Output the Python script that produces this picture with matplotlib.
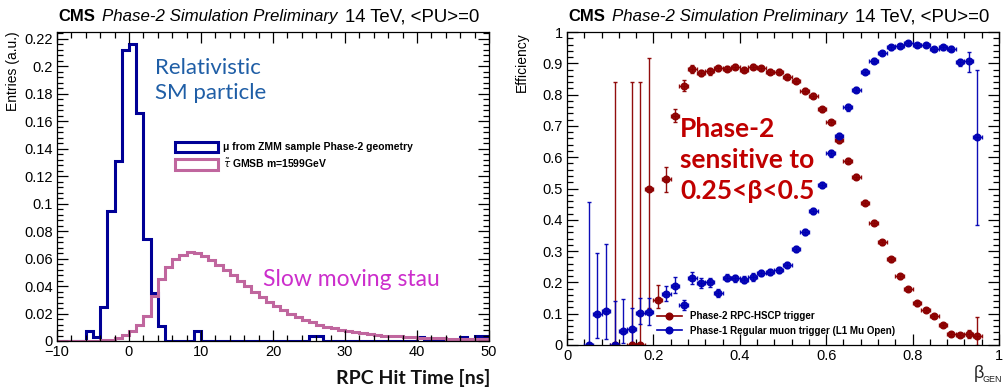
import matplotlib
matplotlib.use("Agg")
import matplotlib.pyplot as plt
import numpy as np
from matplotlib.patches import Rectangle
from matplotlib.lines import Line2D

plt.rcParams['font.family'] = ['Liberation Sans', 'DejaVu Sans']

# ---- left panel: RPC hit time histograms, 1 ns bins from -10 to 50
time_edges = list(range(-10, 51))
muon_entries = [0, 0, 0, 0, 0.007, 0.003, 0.025, 0.095, 0.131, 0.212,
                0.216, 0.166, 0.074, 0.035, 0.011, 0, 0, 0, 0, 0.007,
                0, 0, 0, 0, 0, 0, 0, 0, 0, 0,
                0, 0, 0, 0, 0, 0.004, 0.004, 0, 0, 0,
                0, 0, 0, 0, 0, 0, 0, 0, 0, 0,
                0.003, 0, 0, 0, 0, 0, 0.003, 0, 0.004, 0.004]
stau_entries = [0, 0, 0, 0, 0, 0, 0.0005, 0.001, 0.002, 0.0044,
                0.007, 0.012, 0.018, 0.033, 0.045, 0.054, 0.0595, 0.063, 0.0645, 0.064,
                0.062, 0.059, 0.0555, 0.052, 0.048, 0.044, 0.040, 0.036, 0.032, 0.0285,
                0.0255, 0.0225, 0.020, 0.0175, 0.0155, 0.0135, 0.012, 0.0105, 0.0092, 0.008,
                0.007, 0.0062, 0.0055, 0.0049, 0.0044, 0.004, 0.0036, 0.0033, 0.003, 0.0027,
                0.0025, 0.0023, 0.0021, 0.0019, 0.0017, 0.0016, 0.0015, 0.0014, 0.0013, 0.0012]

# ---- right panel: trigger efficiency vs beta
p2_beta = [0.11, 0.15, 0.17, 0.19, 0.21, 0.23, 0.25, 0.27, 0.29, 0.31,
           0.33, 0.35, 0.37, 0.39, 0.41, 0.43, 0.45, 0.47, 0.49, 0.51,
           0.53, 0.55, 0.57, 0.59, 0.61, 0.63, 0.65, 0.67, 0.69, 0.71,
           0.73, 0.75, 0.77, 0.79, 0.81, 0.83, 0.85, 0.87, 0.89, 0.91,
           0.93, 0.95]
p2_eff = [0, 0, 0, 0.50, 0.143, 0.53, 0.733, 0.828, 0.882, 0.868,
          0.874, 0.884, 0.882, 0.889, 0.879, 0.889, 0.884, 0.873, 0.873, 0.857,
          0.844, 0.812, 0.796, 0.753, 0.712, 0.654, 0.588, 0.537, 0.455, 0.391,
          0.328, 0.274, 0.219, 0.178, 0.133, 0.112, 0.093, 0.064, 0.035, 0.031,
          0.034, 0.029]
p2_err_lo = [0, 0, 0, 0.383, 0.025, 0.04, 0.02, 0.018, 0.012, 0.01,
             0.01, 0.008, 0.008, 0.008, 0.008, 0.008, 0.008, 0.008, 0.008, 0.008,
             0.008, 0.008, 0.008, 0.008, 0.008, 0.008, 0.008, 0.008, 0.008, 0.008,
             0.008, 0.008, 0.008, 0.007, 0.007, 0.007, 0.006, 0.006, 0.006, 0.006,
             0.012, 0.029]
p2_err_hi = [0.84, 0.84, 0.84, 0.416, 0.049, 0.04, 0.02, 0.018, 0.012, 0.01,
             0.01, 0.008, 0.008, 0.008, 0.008, 0.008, 0.008, 0.008, 0.008, 0.008,
             0.008, 0.008, 0.008, 0.008, 0.008, 0.008, 0.008, 0.008, 0.008, 0.008,
             0.008, 0.008, 0.008, 0.007, 0.007, 0.007, 0.006, 0.006, 0.006, 0.006,
             0.015, 0.061]

p1_beta = [0.05, 0.07, 0.09, 0.11, 0.13, 0.15, 0.17, 0.19, 0.23, 0.25,
           0.27, 0.29, 0.31, 0.33, 0.35, 0.37, 0.39, 0.41, 0.43, 0.45,
           0.47, 0.49, 0.51, 0.53, 0.55, 0.57, 0.59, 0.61, 0.63, 0.65,
           0.67, 0.69, 0.71, 0.73, 0.75, 0.77, 0.79, 0.81, 0.83, 0.85,
           0.87, 0.89, 0.91, 0.93, 0.95]
p1_eff = [0, 0.099, 0.109, 0, 0.046, 0.051, 0.103, 0.105, 0.162, 0.19,
          0.128, 0.213, 0.197, 0.200, 0.165, 0.215, 0.213, 0.209, 0.218, 0.230,
          0.234, 0.239, 0.256, 0.306, 0.362, 0.427, 0.511, 0.612, 0.668, 0.759,
          0.815, 0.873, 0.908, 0.932, 0.951, 0.955, 0.964, 0.959, 0.959, 0.946,
          0.951, 0.946, 0.903, 0.908, 0.666]
p1_err_lo = [0, 0.077, 0.089, 0, 0.04, 0.04, 0.035, 0.04, 0.022, 0.025,
             0.015, 0.018, 0.016, 0.015, 0.013, 0.012, 0.012, 0.012, 0.012, 0.01,
             0.01, 0.01, 0.01, 0.01, 0.01, 0.01, 0.01, 0.01, 0.01, 0.01,
             0.008, 0.008, 0.008, 0.007, 0.007, 0.007, 0.006, 0.006, 0.006, 0.007,
             0.007, 0.008, 0.012, 0.035, 0.283]
p1_err_hi = [0.458, 0.196, 0.213, 0.14, 0.10, 0.067, 0.047, 0.044, 0.028, 0.028,
             0.017, 0.02, 0.018, 0.015, 0.013, 0.012, 0.012, 0.012, 0.012, 0.01,
             0.01, 0.01, 0.01, 0.01, 0.01, 0.01, 0.01, 0.01, 0.01, 0.01,
             0.008, 0.008, 0.008, 0.007, 0.007, 0.007, 0.006, 0.006, 0.006, 0.007,
             0.007, 0.008, 0.012, 0.027, 0.213]

navy = '#000096'
mauve = '#c0669e'
red = '#8c0000'
blue = '#0000b4'

fig = plt.figure(figsize=(10.04, 3.9), dpi=100)
W, H = 1004.0, 390.0
ax1 = fig.add_axes([57 / W, 1 - 341 / H, 432 / W, (341 - 31.7) / H])
ax2 = fig.add_axes([567 / W, 1 - 345 / H, 432 / W, (345 - 32) / H])


def root_style(ax):
    ax.tick_params(which='both', direction='in', top=True, right=True,
                   labelsize=10.5, pad=3)
    ax.tick_params(which='major', length=8, width=0.9)
    ax.tick_params(which='minor', length=4, width=0.9)
    for s in ax.spines.values():
        s.set_linewidth(0.9)


def cms_title(x0):
    # pieces placed at their pixel positions in the reference
    y = 1 - 21 / H
    fig.text((x0 + 1) / W, y, 'CMS', fontsize=12, fontweight='bold',
             ha='left', va='baseline')
    fig.text((x0 + 45) / W, y, 'Phase-2 Simulation Preliminary', fontsize=12.2,
             style='italic', ha='left', va='baseline')
    fig.text((x0 + 288) / W, y, '14 TeV, <PU>=0', fontsize=13.4,
             ha='left', va='baseline')


# left panel
ax1.stairs(muon_entries, time_edges, color=navy, lw=2.2)
ax1.stairs(stau_entries, time_edges, color=mauve, lw=2.2)
ax1.set_xlim(-10, 50)
ax1.set_ylim(0, 0.2253)
ax1.set_xticks(range(-10, 51, 10))
ax1.set_xticks(range(-10, 51, 2), minor=True)
ax1.set_yticks(np.arange(0, 0.221, 0.02))
ax1.set_yticklabels(['0', '0.02', '0.04', '0.06', '0.08', '0.1', '0.12',
                     '0.14', '0.16', '0.18', '0.2', '0.22'])
ax1.set_yticks(np.arange(0, 0.225, 0.004), minor=True)
root_style(ax1)
ax1.set_ylabel('Entries (a.u.)', loc='top', fontsize=10)
ax1.yaxis.set_label_coords(-0.086, 1.0)
cms_title(57)

handles = [Rectangle((0, 0), 1, 1, facecolor='none', edgecolor=navy, lw=2.2),
           Rectangle((0, 0), 1, 1, facecolor='none', edgecolor=mauve, lw=2.2)]
ax1.legend(handles, ['\u03bc from ZMM sample Phase-2 geometry', r'$\tilde{\tau}$ GMSB m=1599GeV'],
           loc='upper left', bbox_to_anchor=(0.273, 0.645), frameon=False,
           prop={'size': 7.5, 'weight': 'bold'}, handlelength=4.1, handleheight=1.2,
           labelspacing=0.45, handletextpad=0.5, borderpad=0, borderaxespad=0)

ax1.text(0.228, 0.842, 'Relativistic\nSM particle', transform=ax1.transAxes,
         family=['Lato', 'DejaVu Sans'], fontsize=16, color='#1f5ea6',
         ha='left', va='center', linespacing=1.36)
ax1.text(0.477, 0.2, 'Slow moving stau', transform=ax1.transAxes,
         family=['Lato', 'DejaVu Sans'], fontsize=16.5, color='#cc2ecc',
         ha='left', va='center')
fig.text(490 / W, 1 - 378 / H, 'RPC Hit Time [ns]', family=['Lato', 'DejaVu Sans'],
         fontsize=14, fontweight='bold', ha='right', va='center', color='#111111')

# right panel
ax2.errorbar(p2_beta, p2_eff, xerr=0.01, yerr=[p2_err_lo, p2_err_hi], fmt='o',
             ms=4.8, color=red, ecolor=red, elinewidth=1.0, capsize=1.5,
             capthick=1.0, alpha=0.95)
ax2.errorbar(p1_beta, p1_eff, xerr=0.01, yerr=[p1_err_lo, p1_err_hi], fmt='o',
             ms=4.8, color=blue, ecolor=blue, elinewidth=1.0, capsize=1.5,
             capthick=1.0, alpha=0.95)
ax2.set_xlim(0, 1)
ax2.set_ylim(0, 1)
ax2.set_xticks(np.arange(0, 1.01, 0.2))
ax2.set_xticklabels(['0', '0.2', '0.4', '0.6', '0.8', '1'])
ax2.set_xticks(np.arange(0, 1.01, 0.04), minor=True)
ax2.set_yticks(np.arange(0, 1.01, 0.1))
ax2.set_yticklabels(['0', '0.1', '0.2', '0.3', '0.4', '0.5', '0.6', '0.7',
                     '0.8', '0.9', '1'])
ax2.set_yticks(np.arange(0, 1.01, 0.02), minor=True)
root_style(ax2)
ax2.set_ylabel('Efficiency', loc='top', fontsize=10)
ax2.yaxis.set_label_coords(-0.088, 1.0)
cms_title(567)

h2 = [Line2D([0], [0], color=red, marker='o', ms=4.8, lw=1.2),
      Line2D([0], [0], color=blue, marker='o', ms=4.8, lw=1.2)]
ax2.legend(h2, ['Phase-2 RPC-HSCP trigger', 'Phase-1 Regular muon trigger (L1 Mu Open)'],
           loc='upper left', bbox_to_anchor=(0.208, 0.108), frameon=False,
           prop={'size': 7, 'weight': 'bold'}, handlelength=2.6,
           labelspacing=0.45, handletextpad=0.8, borderpad=0, borderaxespad=0)

ax2.text(0.262, 0.591, 'Phase-2\nsensitive to\n0.25<\u03b2<0.5', transform=ax2.transAxes,
         family=['Lato', 'DejaVu Sans'], fontsize=19, fontweight='bold',
         color='#c00000', ha='left', va='center', linespacing=1.37)
fig.text(974 / W, 1 - 378 / H, '\u03b2', fontsize=13, ha='left', va='baseline',
         color='#222222')
fig.text(983 / W, 1 - 382 / H, 'GEN', fontsize=6.5, ha='left', va='baseline',
         color='#222222')

fig.savefig('out.png', dpi=100)
